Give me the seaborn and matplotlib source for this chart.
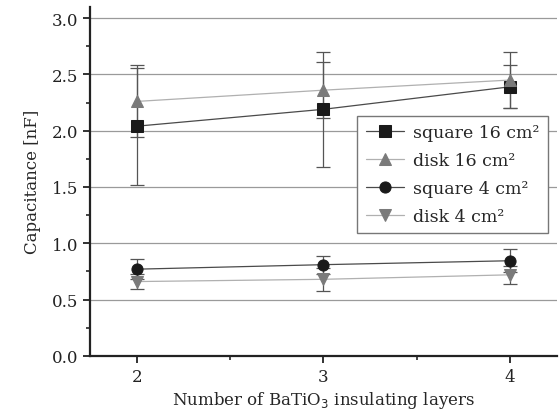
import numpy as np
import pandas as pd
import matplotlib
matplotlib.use("Agg")
import matplotlib.pyplot as plt
from matplotlib.ticker import MultipleLocator
import seaborn as sns

layers = [2, 3, 4]
series_names = ["square 16 cm²", "disk 16 cm²", "square 4 cm²", "disk 4 cm²"]
sq16 = [2.04, 2.19, 2.39]
sq16_err = [0.52, 0.51, 0.19]
dk16 = [2.26, 2.36, 2.45]
dk16_err = [0.32, 0.25, 0.25]
sq4 = [0.77, 0.81, 0.845]
sq4_err = [0.09, 0.08, 0.10]
dk4 = [0.66, 0.68, 0.72]
dk4_err = [0.07, 0.10, 0.08]

values = [sq16, dk16, sq4, dk4]
errors = [sq16_err, dk16_err, sq4_err, dk4_err]
markers = ["s", "^", "o", "v"]
marker_colors = ["#1a1a1a", "#7a7a7a", "#1a1a1a", "#7a7a7a"]
line_colors = ["#4a4a4a", "#b0b0b0", "#4a4a4a", "#b0b0b0"]


def main():
    sns.set_style("white")
    plt.rcParams["font.family"] = ["DejaVu Serif"]

    rows = []
    for name, vals, errs in zip(series_names, values, errors):
        for x, v, e in zip(layers, vals, errs):
            rows.append({"layers": x, "cap": v, "err": e, "series": name})
    df = pd.DataFrame(rows)

    fig = plt.figure(figsize=(5.59, 4.14), dpi=100)
    ax = fig.add_axes([0.161, 0.138, 0.835, 0.843])

    for y in [0.5, 1.0, 1.5, 2.0, 2.5, 3.0]:
        ax.axhline(y, color="#9a9a9a", lw=0.9, zorder=0)

    for name, m, mc, lc in zip(series_names, markers, marker_colors, line_colors):
        d = df[df["series"] == name]
        ax.errorbar(d["layers"], d["cap"], yerr=d["err"], fmt="none",
                    ecolor="#555555", elinewidth=0.9, capsize=5, capthick=0.9, zorder=2)
        sns.lineplot(data=d, x="layers", y="cap", ax=ax, color=lc, lw=0.9,
                     marker=m, markersize=8, markerfacecolor=mc,
                     markeredgecolor=mc, label=name, zorder=3)

    ax.set_xlim(1.75, 4.25)
    ax.set_ylim(0, 3.1)
    ax.set_xticks(layers)
    ax.set_yticks([0.0, 0.5, 1.0, 1.5, 2.0, 2.5, 3.0])
    ax.set_yticklabels(["0.0", "0.5", "1.0", "1.5", "2.0", "2.5", "3.0"])
    ax.xaxis.set_minor_locator(MultipleLocator(0.5))
    ax.yaxis.set_minor_locator(MultipleLocator(0.25))
    ax.tick_params(which="major", direction="out", length=5, width=1.3,
                   labelsize=12, colors="#222222", left=True, bottom=True)
    ax.tick_params(which="minor", direction="out", length=3, width=1.2,
                   left=True, bottom=True)

    for s in ["top", "right"]:
        ax.spines[s].set_visible(False)
    for s in ["left", "bottom"]:
        ax.spines[s].set_linewidth(1.6)
        ax.spines[s].set_color("#222222")

    ax.set_xlabel("Number of BaTiO$_3$ insulating layers", fontsize=12, labelpad=3)
    ax.set_ylabel("Capacitance [nF]", fontsize=12, labelpad=8)

    leg = ax.legend(loc="upper right", bbox_to_anchor=(0.981, 0.688), fontsize=12.5,
                    frameon=True, fancybox=False, edgecolor="#777777", framealpha=1,
                    handlelength=2.2, borderpad=0.5, labelspacing=0.62,
                    handletextpad=0.5, borderaxespad=0)
    leg.get_frame().set_linewidth(1.0)
    leg.set_zorder(5)

    fig.savefig("out.png", dpi=100)
    plt.close(fig)


if __name__ == "__main__":
    main()
